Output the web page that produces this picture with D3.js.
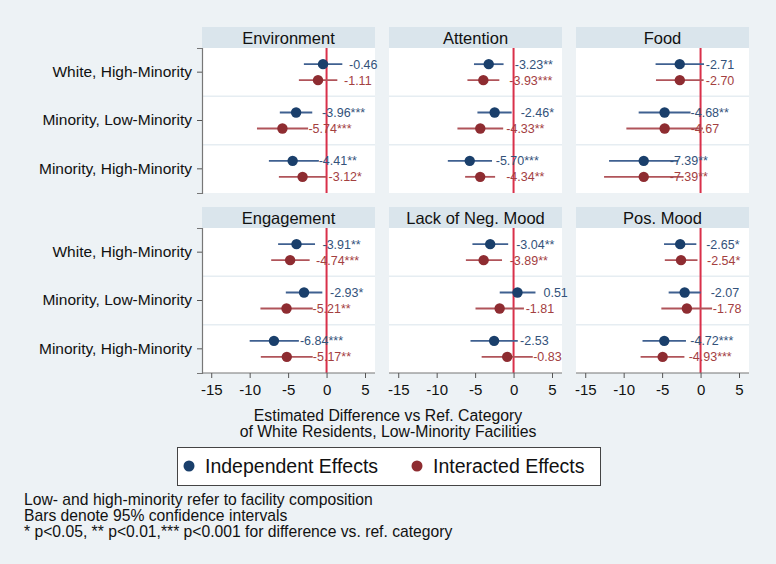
<!DOCTYPE html>
<html><head><meta charset="utf-8">
<script src="https://cdn.jsdelivr.net/npm/d3@7"></script>
<style>body{margin:0;background:#edf2f5;} text{font-family:Arial,"Liberation Sans",sans-serif;}</style>
</head><body>
<svg id="chart" width="776" height="564"></svg>
<script>
const outcomes = ["Environment","Attention","Food","Engagement","Lack of Neg. Mood","Pos. Mood"];
const categories = ["White, High-Minority","Minority, Low-Minority","Minority, High-Minority"];
const xTicks = [-15,-10,-5,0,5];

const indepEst = [[-0.46,-3.96,-4.41],[-3.23,-2.46,-5.70],[-2.71,-4.68,-7.39],[-3.91,-2.93,-6.84],[-3.04,0.51,-2.53],[-2.65,-2.07,-4.72]];
const indepLo  = [[-2.95,-6.08,-7.50],[-5.15,-4.70,-8.55],[-5.85,-8.05,-11.9],[-6.30,-5.30,-10.0],[-5.35,-1.80,-5.60],[-4.75,-4.15,-7.55]];
const indepHi  = [[2.05,-1.86,-1.00],[-1.30,-0.25,-2.80],[0.45,-1.30,-2.90],[-1.50,-0.55,-3.60],[-0.70,2.85,0.55],[-0.55,0.02,-1.90]];
const indepStars = [["","***","**"],["**","*","***"],["","**","**"],["**","*","***"],["**","",""],["*","","***"]];

const interEst = [[-1.11,-5.74,-3.12],[-3.93,-4.33,-4.34],[-2.70,-4.67,-7.39],[-4.74,-5.21,-5.17],[-3.89,-1.81,-0.83],[-2.54,-1.78,-4.93]];
const interLo  = [[-3.60,-9.05,-6.20],[-6.00,-7.30,-6.30],[-5.80,-9.65,-12.55],[-7.20,-8.60,-8.55],[-6.20,-4.95,-4.15],[-4.65,-5.10,-7.80]];
const interHi  = [[1.40,-2.40,-0.05],[-1.85,-1.35,-2.40],[0.40,0.30,-2.20],[-2.20,-1.80,-1.80],[-1.50,1.35,2.50],[-0.40,1.50,-2.10]];
const interStars = [["","***","*"],["***","**","**"],["","","**"],["***","**","**"],["**","",""],["*","","***"]];

const seriesNames = ["Independent Effects","Interacted Effects"];
const notes = ["Low- and high-minority refer to facility composition","Bars denote 95% confidence intervals","* p<0.05, ** p<0.01,*** p<0.001 for difference vs. ref. category"];
const axisTitle = ["Estimated Difference vs Ref. Category","of White Residents, Low-Minority Facilities"];

const series = [
  {name: seriesNames[0], est: indepEst, lo: indepLo, hi: indepHi, stars: indepStars, dot:"#1a3f6b", line:"#3f6090", text:"#33527a", off:-8},
  {name: seriesNames[1], est: interEst, lo: interLo, hi: interHi, stars: interStars, dot:"#8e2c31", line:"#b0545a", text:"#a3403f", off:8}
];

const fmt = v => d3.format(".2f")(v).replace("\u2212","-");
const FONT = "Arial, 'Liberation Sans', sans-serif";

const svg = d3.select("#chart");
svg.append("rect").attr("width",776).attr("height",564).attr("fill","#edf2f5");

const panelW = 173, colX = [202,389,576];
const rowHeaderY = [27,207], headerH = 21, plotH = 145;
const x = d3.scaleLinear().domain([-16.2,6.3]).range([0,panelW]);
const y = d3.scaleBand().domain(categories).range([0,plotH]);

outcomes.forEach((oc,i)=>{
  const r = Math.floor(i/3), c = i%3;
  const gx = colX[c], hy = rowHeaderY[r], py = hy+headerH;
  svg.append("rect").attr("x",gx).attr("y",hy).attr("width",panelW).attr("height",headerH).attr("fill","#dae5ec");
  svg.append("text").attr("x",gx+panelW/2).attr("y",hy+headerH/2+6).attr("text-anchor","middle")
    .attr("font-size",16.5).attr("fill","#111").text(oc);
  const g = svg.append("g").attr("transform",`translate(${gx},${py})`);
  g.append("rect").attr("width",panelW).attr("height",plotH).attr("fill","#fff");
  categories.slice(1).forEach(cat=>{
    g.append("line").attr("x1",0).attr("x2",panelW).attr("y1",y(cat)).attr("y2",y(cat)).attr("stroke","#e6edf2").attr("stroke-width",1.5);
  });
  g.append("line").attr("x1",x(0)).attr("x2",x(0)).attr("y1",0).attr("y2",plotH).attr("stroke","#d9304a").attr("stroke-width",2);
  series.forEach(s=>{
    categories.forEach((cat,k)=>{
      const cy = y(cat)+y.bandwidth()/2+s.off;
      g.append("line").attr("x1",x(s.lo[i][k])).attr("x2",x(s.hi[i][k])).attr("y1",cy).attr("y2",cy)
        .attr("stroke",s.line).attr("stroke-width",1.8);
      g.append("circle").attr("cx",x(s.est[i][k])).attr("cy",cy).attr("r",5.2).attr("fill",s.dot);
      g.append("text").attr("x",x(s.est[i][k])+26).attr("y",cy+4.5).attr("font-size",12.5).attr("fill",s.text)
        .text(fmt(s.est[i][k])+s.stars[i][k]);
    });
  });
  if(c===0){
    const ax = g.append("g").call(d3.axisLeft(y).tickSize(5).tickPadding(5));
    ax.select(".domain").attr("stroke","#777").attr("stroke-width",1.2);
    ax.selectAll(".tick line").attr("stroke","#555");
    ax.selectAll(".tick text").attr("font-size",15.5).attr("fill","#111").attr("font-family",FONT);
  }
  if(r===1){
    const bx = g.append("g").attr("transform",`translate(0,${plotH})`)
      .call(d3.axisBottom(x).tickValues(xTicks).tickSize(5).tickPadding(6).tickFormat(d=>String(d)));
    bx.select(".domain").attr("stroke","#777").attr("stroke-width",1.2).attr("d",`M0,0H${panelW}`);
    bx.selectAll(".tick line").attr("stroke","#555");
    bx.selectAll(".tick text").attr("font-size",15).attr("fill","#111").attr("font-family",FONT);
  }
});

axisTitle.forEach((t,k)=>{
  svg.append("text").attr("x",388).attr("y",421+k*16).attr("text-anchor","middle").attr("font-size",15.8).attr("fill","#111").text(t);
});

const lg = svg.append("g");
lg.append("rect").attr("x",177.5).attr("y",447.5).attr("width",423).attr("height",38).attr("fill","#fff").attr("stroke","#444").attr("stroke-width",1);
const legX = [189,417];
series.forEach((s,k)=>{
  lg.append("circle").attr("cx",legX[k]).attr("cy",466).attr("r",5.5).attr("fill",s.dot);
  lg.append("text").attr("x",legX[k]+16).attr("y",473).attr("font-size",19.5).attr("fill","#111").text(s.name);
});

notes.forEach((t,k)=>{
  svg.append("text").attr("x",24).attr("y",505+k*16).attr("font-size",15.7).attr("fill","#111").text(t);
});
</script>
</body></html>
